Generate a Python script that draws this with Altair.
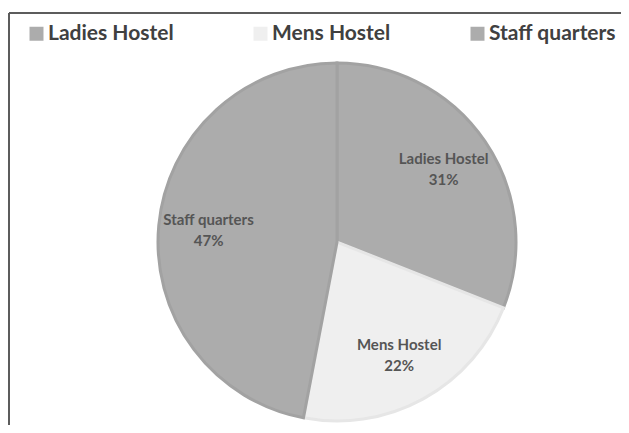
import altair as alt
import pandas as pd

categories = ["Ladies Hostel", "Mens Hostel", "Staff quarters"]
values = [31, 22, 47]
fills = ["#acacac", "#efefef", "#acacac"]
strokes = ["#a2a2a2", "#e6e6e6", "#a2a2a2"]

df = pd.DataFrame({
    "category": categories,
    "value": values,
    "order": list(range(len(categories))),
    "label": [f"{c}\n{v}%" for c, v in zip(categories, values)],
})

FONT = "Lato"
CX, CY, R = 329, 234, 179

base = alt.Chart(df).encode(
    theta=alt.Theta("value:Q", stack=True),
    order=alt.Order("order:Q"),
)

pie = base.mark_arc(outerRadius=R, strokeWidth=3).encode(
    x=alt.value(CX),
    y=alt.value(CY),
    color=alt.Color(
        "category:N",
        scale=alt.Scale(domain=categories, range=fills),
        sort=categories,
        legend=alt.Legend(
            title=None,
            orient="none",
            legendX=18,
            legendY=15,
            direction="horizontal",
            symbolType="square",
            symbolSize=196,
            symbolStrokeWidth=0,
            symbolOpacity=1,
            labelFont=FONT,
            labelFontSize=21,
            labelFontWeight="bold",
            labelColor="#404040",
            labelOffset=1,
            columnPadding=76,
            labelLimit=300,
        ),
    ),
    stroke=alt.Stroke(
        "category:N",
        scale=alt.Scale(domain=categories, range=strokes),
        legend=None,
    ),
)

labels = base.mark_text(
    radius=129,
    font=FONT,
    fontSize=15,
    fontWeight="bold",
    color="#555555",
    lineBreak="\n",
    align="center",
    baseline="middle",
    lineHeight=21,
    dy=-10,
).encode(
    x=alt.value(CX),
    y=alt.value(CY),
    text="label:N",
)

frame_top = alt.Chart(df).mark_rule(color="#5a5a5a", strokeWidth=1.5).encode(
    x=alt.value(1), x2=alt.value(700), y=alt.value(5)
)
frame_left = alt.Chart(df).mark_rule(color="#5a5a5a", strokeWidth=1.5).encode(
    x=alt.value(1), y=alt.value(5), y2=alt.value(500)
)

chart = alt.layer(frame_top, frame_left, pie, labels).properties(
    width=613,
    height=417,
    autosize=alt.AutoSizeParams(type="none"),
    padding=0,
    background="white",
).configure_view(stroke=None)

chart.save("out.html", embed_options={"renderer": "svg", "actions": False})
